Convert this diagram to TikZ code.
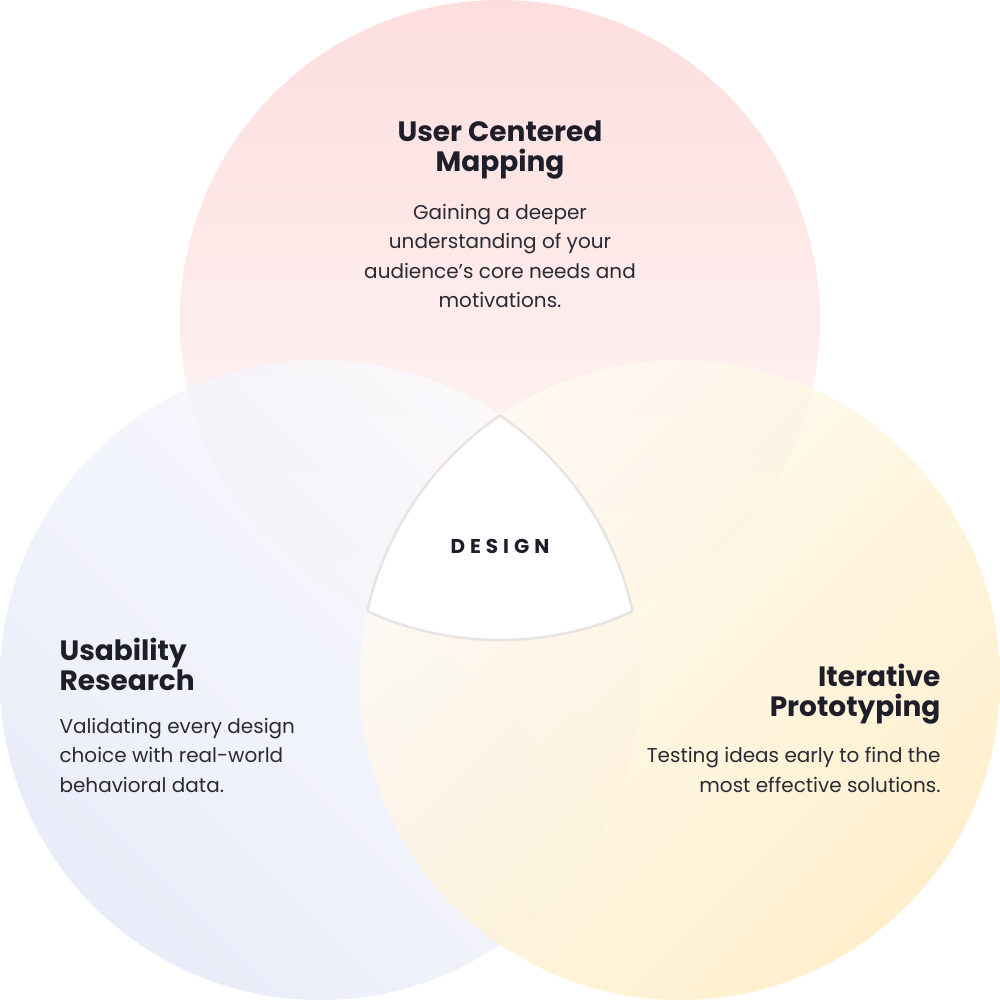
\documentclass[tikz,border=0pt]{standalone}
\usepackage{fontspec}
\setmainfont{Poppins}
\newfontfamily\spaced[LetterSpace=25]{Poppins}
\definecolor{ink}{HTML}{1E1E2A}
\definecolor{body}{HTML}{2A2A33}
\definecolor{pinkc}{HTML}{FDD8D8}
\definecolor{lavc}{HTML}{E4E8F8}
\definecolor{yelc}{HTML}{FFEBC0}
\definecolor{edge}{HTML}{E8E4E2}
\begin{document}
\begin{tikzpicture}[x=1pt,y=-1pt,
  ttl/.style={font=\fontsize{28}{30}\selectfont\bfseries, text=ink},
  bdy/.style={font=\fontsize{20}{29.5}\selectfont, text=body}]
\useasboundingbox (0,0) rectangle (1000,1000);
\coordinate (T) at (500,320);
\coordinate (L) at (320,680);
\coordinate (R) at (680,680);
\shade[top color=pinkc, bottom color=pinkc!15, opacity=0.85] (T) circle[radius=320];
\shade[left color=lavc!15, right color=lavc, shading angle=-45, opacity=0.8] (L) circle[radius=320];
\shade[left color=yelc!15, right color=yelc, shading angle=45, opacity=0.8] (R) circle[radius=320];
\begin{scope}
 \clip (T) circle[radius=320];
 \clip (L) circle[radius=320];
 \fill[white] (R) circle[radius=320];
\end{scope}
\begin{scope}
 \clip (T) circle[radius=320]; \clip (L) circle[radius=320];
 \draw[edge, line width=2.5] (R) circle[radius=320];
\end{scope}
\begin{scope}
 \clip (T) circle[radius=320]; \clip (R) circle[radius=320];
 \draw[edge, line width=2.5] (L) circle[radius=320];
\end{scope}
\begin{scope}
 \clip (L) circle[radius=320]; \clip (R) circle[radius=320];
 \draw[edge, line width=2.5] (T) circle[radius=320];
\end{scope}
\node[ttl, align=center] (t1) at (500,150) {User Centered\\Mapping};
\node[bdy, align=center] (b1) at (500,256) {Gaining a deeper\\understanding of your\\audience’s core needs and\\motivations.};
\node[ttl, align=left, anchor=west] (t2) at (56,664) {Usability\\Research};
\node[bdy, align=left, anchor=west] (b2) at (56,755) {Validating every design\\choice with real-world\\behavioral data.};
\node[ttl, align=right, anchor=east] (t3) at (944,694) {Iterative\\Prototyping};
\node[bdy, align=right, anchor=east] (b3) at (944,770) {Testing ideas early to find the\\most effective solutions.};
\node[font=\fontsize{20}{24}\selectfont\spaced\bfseries, text=ink] (d) at (500,546) {DESIGN};
\end{tikzpicture}
\end{document}
